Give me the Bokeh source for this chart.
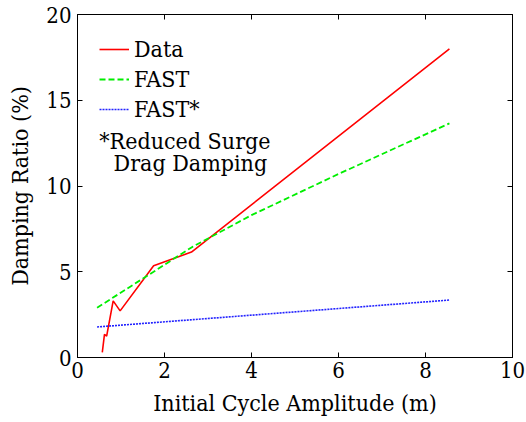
from bokeh.plotting import figure
from bokeh.models import Range1d, LinearAxis, Legend, LegendItem, Label
from bokeh.embed import file_html
from bokeh.resources import INLINE

# Data
data_x = [0.57, 0.62, 0.67, 0.82, 0.98, 1.75, 2.62, 8.55]
data_y = [0.3, 1.35, 1.25, 3.3, 2.72, 5.35, 6.15, 18.0]

fast_x = [0.45, 1.75, 2.64, 4.0, 6.0, 8.55]
fast_y = [2.9, 5.0, 6.45, 8.3, 10.7, 13.65]

fast_star_x = [0.45, 8.55]
fast_star_y = [1.78, 3.35]

x_ticks = [0, 2, 4, 6, 8, 10]
y_ticks = [0, 5, 10, 15, 20]

x_label = "Initial Cycle Amplitude (m)"
y_label = "Damping Ratio (%)"
note_lines = ["*Reduced Surge", "Drag Damping"]

FONT = "DejaVu Serif Condensed"
FS = "23px"

p = figure(width=526, height=422, output_backend="svg", toolbar_location=None,
           x_range=Range1d(0, 10), y_range=Range1d(0, 20),
           min_border_left=77, min_border_right=14, min_border_top=14, min_border_bottom=65)
p.background_fill_color = "white"
p.border_fill_color = "white"
p.xgrid.visible = False
p.ygrid.visible = False
p.outline_line_color = "black"
p.outline_line_width = 1

def style_axis(ax):
    ax.major_tick_in = 5
    ax.major_tick_out = 0
    ax.minor_tick_in = 0
    ax.minor_tick_out = 0
    ax.axis_line_color = "black"
    ax.major_tick_line_color = "black"
    ax.major_label_text_font = FONT
    ax.major_label_text_font_size = "22px"
    ax.major_label_text_color = "black"
    ax.axis_label_text_font = FONT
    ax.axis_label_text_font_size = FS
    ax.axis_label_text_font_style = "normal"
    ax.axis_label_text_color = "black"

p.xaxis.ticker = x_ticks
p.yaxis.ticker = y_ticks
style_axis(p.xaxis[0])
style_axis(p.yaxis[0])
p.xaxis.axis_label = x_label
p.yaxis.axis_label = y_label
p.xaxis.major_label_standoff = 4
p.yaxis.major_label_standoff = 6
p.xaxis.axis_label_standoff = 9
p.yaxis.axis_label_standoff = 10

top = LinearAxis()
right = LinearAxis()
top.ticker = x_ticks
right.ticker = y_ticks
style_axis(top)
style_axis(right)
top.major_label_overrides = {t: "" for t in x_ticks}
right.major_label_overrides = {t: "" for t in y_ticks}
p.add_layout(top, "above")
p.add_layout(right, "right")

r1 = p.line(data_x, data_y, line_color="#ff0000", line_width=1.6)
r2 = p.line(fast_x, fast_y, line_color="#00ee00", line_width=1.8, line_dash="6 3")
r3 = p.line(fast_star_x, fast_star_y, line_color="#2222ff", line_width=1.6, line_dash="2 1")

legend = Legend(items=[LegendItem(label="Data", renderers=[r1]),
                       LegendItem(label="FAST", renderers=[r2]),
                       LegendItem(label="FAST*", renderers=[r3])],
                location="top_left")
legend.border_line_alpha = 0
legend.background_fill_alpha = 0
legend.label_text_font = FONT
legend.label_text_font_size = FS
legend.label_text_color = "black"
legend.glyph_width = 30
legend.glyph_height = 22
legend.label_height = 22
legend.spacing = 4
legend.margin = 12
legend.padding = 10
legend.label_standoff = 5
p.add_layout(legend)

p.add_layout(Label(x=0.5, y=12.6, text=note_lines[0], text_font=FONT, text_font_size=FS,
                   text_color="black", text_baseline="middle", text_align="left"))
p.add_layout(Label(x=0.83, y=11.35, text=note_lines[1], text_font=FONT, text_font_size=FS,
                   text_color="black", text_baseline="middle", text_align="left"))

open("out.html", "w").write(file_html(p, INLINE))
